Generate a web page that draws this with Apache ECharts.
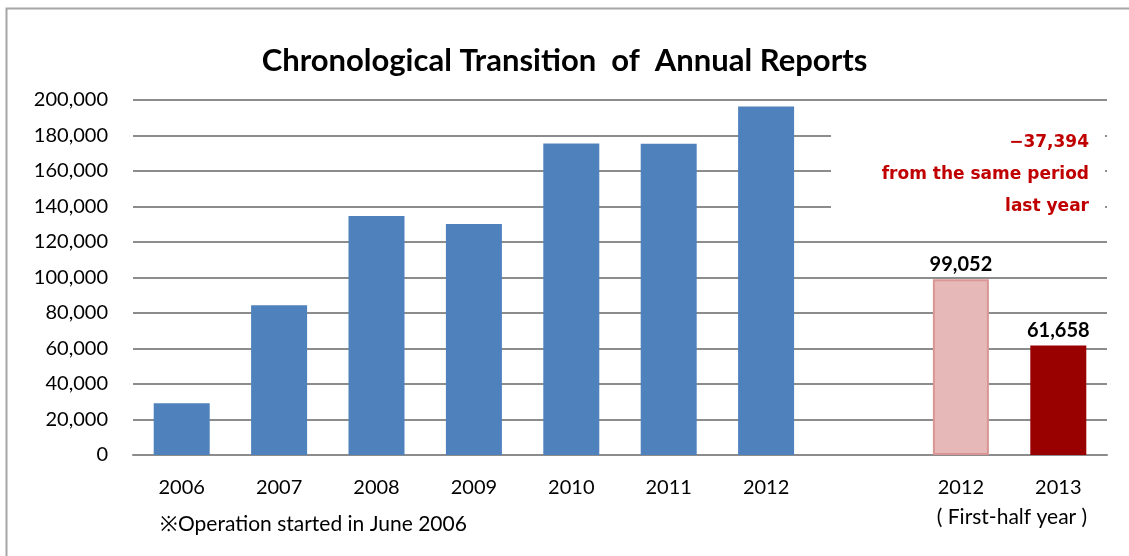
<!DOCTYPE html>
<html>
<head>
<meta charset="utf-8">
<script src="https://cdn.jsdelivr.net/npm/echarts@6/dist/echarts.min.js"></script>
<style>
  html, body { margin: 0; padding: 0; background: #fff; }
  #chart { width: 1129px; height: 556px; }
</style>
</head>
<body>
<div id="chart"></div>
<script>
// categories (empty slot separates the yearly totals from the half-year comparison)
const years = ['2006', '2007', '2008', '2009', '2010', '2011', '2012', '', '2012', '2013'];
const annualReports = [29100, 84400, 134700, 130100, 175500, 175400, 196300, '-', '-', '-'];
const firstHalf2012 = ['-', '-', '-', '-', '-', '-', '-', '-', 99052, '-'];
const firstHalf2013 = ['-', '-', '-', '-', '-', '-', '-', '-', '-', 61658];
const noteLines = ['\u221237,394', 'from the same period', 'last year'];

const fmt = v => v.toLocaleString('en-US');
const chart = echarts.init(document.getElementById('chart'));

chart.setOption({
  animation: false,
  backgroundColor: '#fff',
  textStyle: { fontFamily: 'Lato' },
  title: {
    text: 'Chronological Transition  of  Annual Reports',
    left: 'center',
    top: 40,
    textStyle: { fontFamily: 'Lato', fontWeight: 'bold', fontSize: 31, color: '#000' }
  },
  grid: { left: 133, right: 22, top: 100, bottom: 101 },
  xAxis: {
    type: 'category',
    data: years,
    axisLine: { lineStyle: { color: '#8c8c8c', width: 2 } },
    axisTick: { show: false },
    axisLabel: { color: '#000', fontSize: 20, margin: 23, interval: 0 }
  },
  yAxis: {
    type: 'value',
    min: 0,
    max: 200000,
    interval: 20000,
    axisLine: { show: false },
    axisTick: { show: false },
    splitLine: { lineStyle: { color: '#8c8c8c', width: 2 } },
    axisLabel: { color: '#000', fontSize: 20, margin: 25, formatter: fmt }
  },
  series: [
    {
      type: 'bar',
      data: annualReports,
      barWidth: 56,
      itemStyle: { color: '#4f81bd' }
    },
    {
      type: 'bar',
      data: firstHalf2012,
      barWidth: 56,
      barGap: '-100%',
      itemStyle: { color: '#e6b9b8', borderColor: '#d99694', borderWidth: 2 },
      label: {
        show: true, position: 'top', distance: 5, color: '#000',
        fontSize: 20, fontWeight: 'bold', formatter: p => fmt(p.value)
      }
    },
    {
      type: 'bar',
      data: firstHalf2013,
      barWidth: 56,
      barGap: '-100%',
      itemStyle: { color: '#990000' },
      label: {
        show: true, position: 'top', distance: 5, color: '#000',
        fontSize: 20, fontWeight: 'bold', formatter: p => fmt(p.value)
      }
    }
  ],
  graphic: [
    {
      type: 'rect', z: 100, silent: true,
      shape: { x: 6.5, y: 8.5, width: 1200, height: 600 },
      style: { fill: null, stroke: '#a6a6a6', lineWidth: 2 }
    },
    {
      type: 'rect', z: 100,
      shape: { x: 831, y: 123, width: 274, height: 94 },
      style: { fill: '#fff' }
    },
    {
      type: 'text', z: 101, x: 1089, y: 127,
      style: {
        text: noteLines.join('\n'), align: 'right', verticalAlign: 'top', lineHeight: 32,
        fill: '#c00000', font: 'bold 17px "DejaVu Sans"'
      }
    },
    {
      type: 'text', z: 101, x: 1012, y: 507,
      style: { text: '( First-half year )', align: 'center', verticalAlign: 'top', fill: '#000', font: '21px Lato' }
    },
    {
      type: 'text', z: 101, x: 160, y: 514,
      style: { text: '\u203BOperation started in June 2006', verticalAlign: 'top', fill: '#000', font: '21px Lato' }
    }
  ]
});
</script>
</body>
</html>
